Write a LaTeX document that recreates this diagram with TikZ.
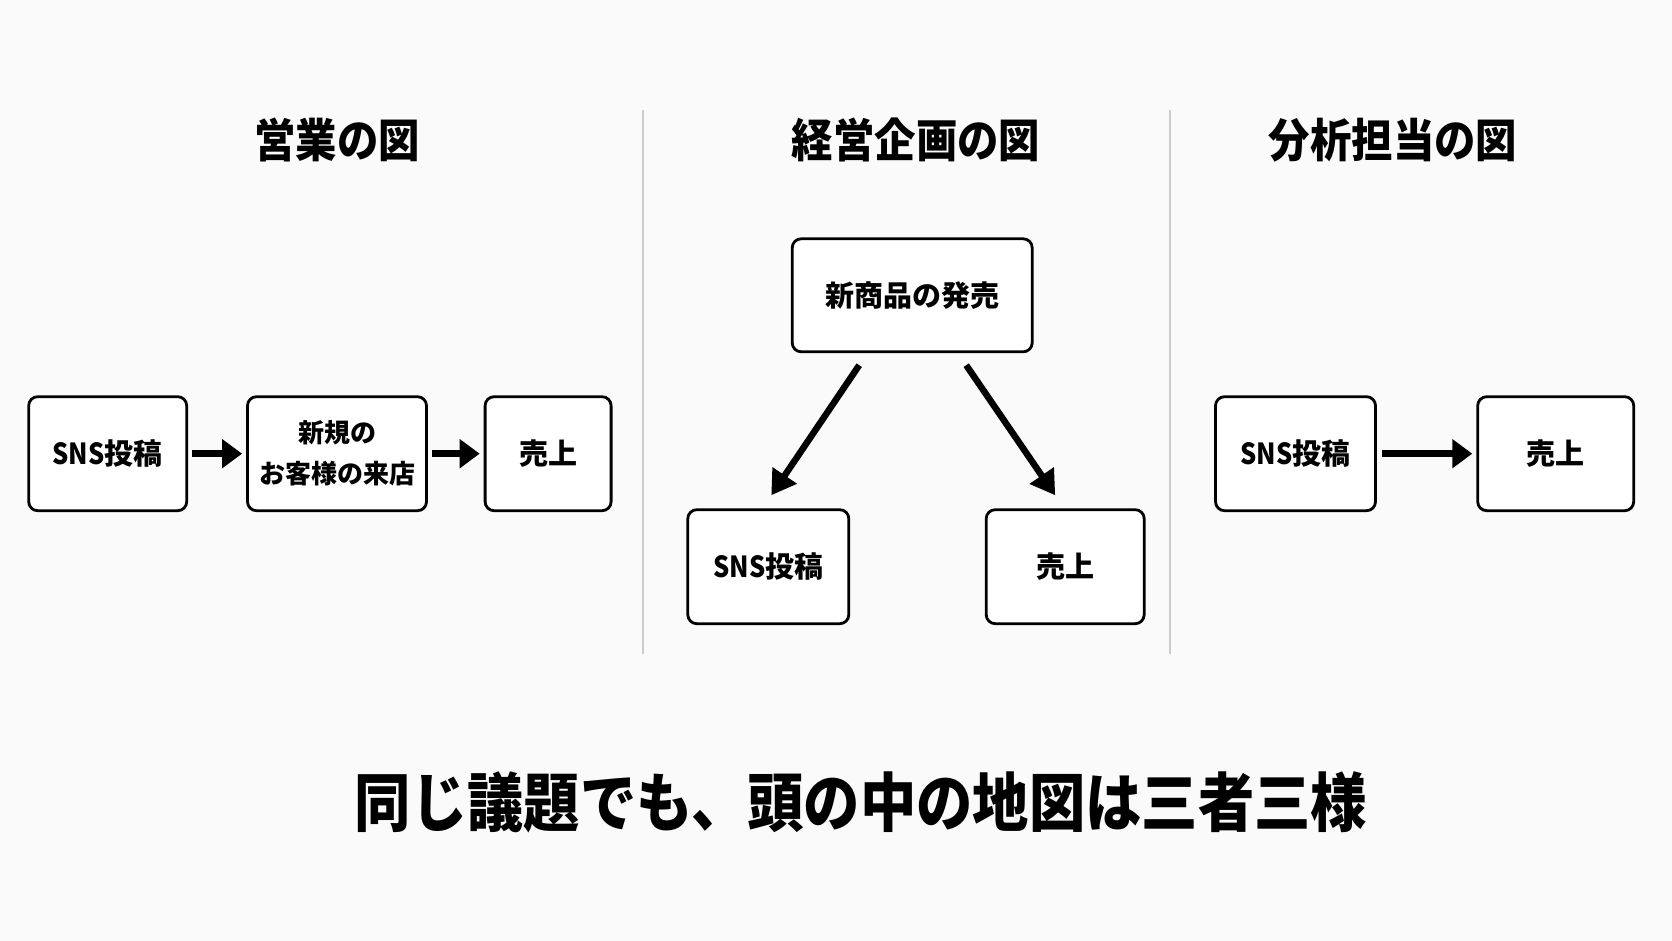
\documentclass[tikz,border=0pt]{standalone}
\usepackage{fontspec}
\newfontfamily\jp{Noto Sans CJK JP}
\usetikzlibrary{arrows.meta}
\definecolor{bg}{RGB}{250,250,250}
\definecolor{divc}{RGB}{204,204,204}
\newcommand{\sns}{\scalebox{0.88}[1]{SNS}}
\tikzset{
  box/.style={draw=black, line width=2.8pt, rounded corners=9pt, fill=white,
    minimum height=114pt, inner sep=0pt, align=center,
    font=\jp\bfseries\fontsize{29}{42}\selectfont},
  ttl/.style={font=\jp\bfseries\fontsize{46}{52}\selectfont, inner sep=0pt},
  arr/.style={line width=7pt, -{Triangle[length=20pt,width=28pt]}},
  darr/.style={line width=6.5pt, -{Triangle[length=24pt,width=28pt]}},
  divline/.style={draw=divc, line width=2pt}
}
\begin{document}
\begin{tikzpicture}[x=1pt,y=-1pt]
\fill[bg] (0,0) rectangle (1672,941);
\useasboundingbox (0,0) rectangle (1672,941);
% dividers
\coordinate (d1t) at (643,110);
\coordinate (d1b) at (643,654);
\coordinate (d2t) at (1170,110);
\coordinate (d2b) at (1170,654);
\draw[divline] (d1t) -- (d1b);
\draw[divline] (d2t) -- (d2b);
% titles
\node[ttl] (t1) at (337,140) {\scalebox{0.9}[1]{営業の図}};
\node[ttl] (t2) at (916,140) {\scalebox{0.9}[1]{経営企画の図}};
\node[ttl] (t3) at (1393,140) {\scalebox{0.9}[1]{分析担当の図}};
% panel 1
\node[box, minimum width=158pt] (a1) at (107.7,453.7) {\sns 投稿};
\node[box, minimum width=179pt, font=\jp\bfseries\fontsize{26}{41}\selectfont] (a2) at (337,453.7) {新規の\\お客様の来店};
\node[box, minimum width=126pt] (a3) at (548.1,453.7) {売上};
\draw[arr, shorten <=4pt, shorten >=4pt] (a1.east) -- (a2.west);
\draw[arr, shorten <=4pt, shorten >=4pt] (a2.east) -- (a3.west);
% panel 2
\node[box, minimum width=240pt, minimum height=113pt] (b1) at (912.2,295.3) {新商品の発売};
\node[box, minimum width=161pt] (b2) at (768.3,566.7) {\sns 投稿};
\node[box, minimum width=158pt] (b3) at (1065.2,566.7) {売上};
\draw[darr] ([xshift=-53pt,yshift=-12pt]b1.south) -- ([xshift=3pt,yshift=13pt]b2.north);
\draw[darr] ([xshift=54pt,yshift=-12pt]b1.south) -- ([xshift=-10pt,yshift=13pt]b3.north);
% panel 3
\node[box, minimum width=160pt] (c1) at (1295.5,453.7) {\sns 投稿};
\node[box, minimum width=156pt] (c2) at (1555.7,453.7) {売上};
\draw[arr, shorten <=5pt, shorten >=4pt] (c1.east) -- (c2.west);
% bottom caption
\node[font=\jp\bfseries\fontsize{64}{70}\selectfont, inner sep=0pt] (cap) at (861,802) {\scalebox{0.88}[1]{同じ議題でも、頭の中の地図は三者三様}};
\end{tikzpicture}
\end{document}
